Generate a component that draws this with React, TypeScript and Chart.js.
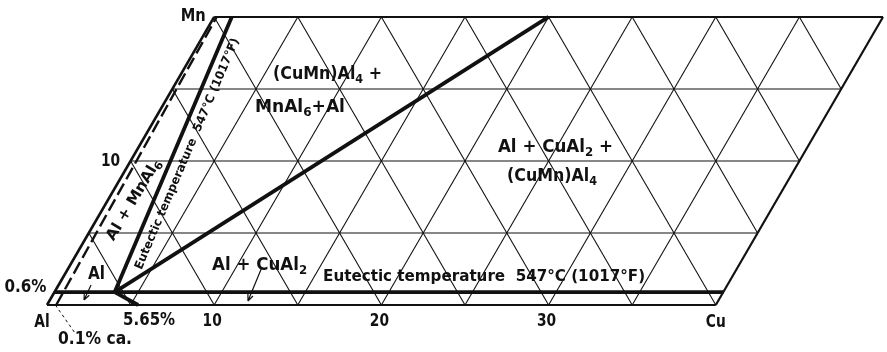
import React, { useEffect, useRef } from "react";
import { Chart, registerables } from "chart.js";

Chart.register(...registerables);

const SIN60 = Math.sqrt(3) / 2;

// ---- composition ranges / ticks (weight %) ----
const cuRange = [0, 40];
const mnRange = [0, 20];
const cuTicks = [10, 20, 30];
const mnTicks = [10];
const gridStep = 5;

// ---- phase boundaries, [Cu %, Mn %] ----
const isothermMn = 0.9; // drawn level of the 0.6 % Mn eutectic isotherm
const eutecticPoint: [number, number] = [3.6, 0.9];
const cuSolvusEnd: [number, number] = [5.45, 0];
const mnAl6BoundaryTop: [number, number] = [1.05, 20];
const tieLineTop: [number, number] = [20, 20];
const mnSolvus: [number, number][] = [
  [0.55, 0],
  [0.15, 20],
];

// ---- text labels ----
const regionLabels = [
  { text: "(CuMn)Al_4 +", cu: 8.79, mn: 15.97, w: 109, size: 17, rot: 0 },
  { text: "MnAl_6+Al", cu: 8.29, mn: 13.68, w: 90, size: 17, rot: 0 },
  { text: "Al + CuAl_2 +", cu: 24.96, mn: 10.9, w: 115, size: 17, rot: 0 },
  { text: "(CuMn)Al_4", cu: 25.76, mn: 8.89, w: 90, size: 17, rot: 0 },
  { text: "Al + CuAl_2", cu: 11.36, mn: 2.71, w: 95, size: 17, rot: 0 },
  { text: "Eutectic temperature  547°C (1017°F)", cu: 25.17, mn: 1.94, w: 322, size: 16, rot: 0 },
  { text: "Al", cu: 1.92, mn: 2.08, w: 17, size: 17, rot: 0 },
  { text: "Al + MnAl_6", cu: 1.55, mn: 7.29, w: 92, size: 15, rot: -59 },
  { text: "Eutectic temperature  547°C (1017°F)", cu: 3.15, mn: 10.49, w: 250, size: 12, rot: -67 },
];

// arrows / leaders, [Cu %, Mn %]
const arrows = [
  { from: [1.94, 1.39], to: [2.04, 0.35] },
  { from: [11.54, 2.64], to: [11.88, 0.28] },
];
const leader = { from: [0.5, 0], to: [2.64, -1.94] };

const toPt = (cu: number, mn: number) => ({ x: cu + mn / 2, y: mn * SIN60 });

function seg(a: [number, number], b: [number, number]) {
  return [toPt(a[0], a[1]), toPt(b[0], b[1])];
}

function buildGrid() {
  const lines: { x: number; y: number }[][] = [];
  const [c0, c1] = cuRange;
  const [m0, m1] = mnRange;
  for (let m = m0 + gridStep; m < m1; m += gridStep) lines.push(seg([c0, m], [c1, m]));
  for (let c = c0 + gridStep; c < c1; c += gridStep) lines.push(seg([c, m0], [c, m1]));
  for (let k = gridStep; k < c1 + m1; k += gridStep) {
    const lo: [number, number] = k <= c1 ? [k, 0] : [c1, k - c1];
    const hi: [number, number] = k <= m1 ? [0, k] : [k - m1, m1];
    lines.push(seg(lo, hi));
  }
  return lines;
}

const FAM = '"Liberation Sans Narrow","DejaVu Sans Condensed","Liberation Sans",Arial,sans-serif';

function drawRich(
  ctx: CanvasRenderingContext2D,
  text: string,
  cx: number,
  cy: number,
  size: number,
  width: number | null,
  angle: number,
  sxDefault = 0.85
) {
  const parts = text.split(/(_\d)/).filter((p) => p.length > 0);
  const main = `bold ${size}px ${FAM}`;
  const sub = `bold ${Math.round(size * 0.72)}px ${FAM}`;
  let total = 0;
  const ms = parts.map((p) => {
    const isSub = p.startsWith("_");
    const t = isSub ? p.slice(1) : p;
    ctx.font = isSub ? sub : main;
    const w = ctx.measureText(t).width;
    total += w;
    return { t, isSub, w };
  });
  const sx = width ? width / total : sxDefault;
  ctx.save();
  ctx.translate(cx, cy);
  ctx.rotate((angle * Math.PI) / 180);
  ctx.scale(sx, 1);
  ctx.textBaseline = "middle";
  ctx.textAlign = "left";
  ctx.fillStyle = "#111";
  let xx = -total / 2;
  for (const m of ms) {
    ctx.font = m.isSub ? sub : main;
    ctx.fillText(m.t, xx, m.isSub ? size * 0.3 : 0);
    xx += m.w;
  }
  ctx.restore();
}

const annotate = {
  id: "annotate",
  afterDatasetsDraw(chart: any) {
    const { ctx, scales } = chart;
    const sx = scales.x;
    const sy = scales.y;
    const P = (cu: number, mn: number) => {
      const p = toPt(cu, mn);
      return [sx.getPixelForValue(p.x), sy.getPixelForValue(p.y)];
    };
    ctx.save();
    for (const l of regionLabels) {
      const [x, y] = P(l.cu, l.mn);
      drawRich(ctx, l.text, x, y, l.size, l.w, l.rot);
    }
    for (const c of cuTicks) {
      const [x, y] = P(c, 0);
      drawRich(ctx, String(c), x - 2, y + 16, 18, null, 0);
    }
    for (const m of mnTicks) {
      const [x, y] = P(cuRange[0], m);
      drawRich(ctx, String(m), x - 20, y, 18, null, 0);
    }
    {
      const [x, y] = P(cuRange[1], 0);
      drawRich(ctx, "Cu", x, y + 17, 18, null, 0);
    }
    {
      const [x, y] = P(cuRange[0], 0);
      drawRich(ctx, "Al", x - 5, y + 17, 18, null, 0);
      drawRich(ctx, "0.1% ca.", x + 48, y + 35, 17, 74, 0);
    }
    {
      const [x, y] = P(cuRange[0], mnRange[1]);
      drawRich(ctx, "Mn", x - 21, y - 1, 18, 25, 0);
    }
    {
      const [x, y] = P(cuRange[0], isothermMn);
      drawRich(ctx, "0.6%", x - 29, y - 4, 17, 42, 0);
    }
    {
      const [x, y] = P(cuSolvusEnd[0], cuSolvusEnd[1]);
      drawRich(ctx, "5.65%", x + 11, y + 16, 17, 52, 0);
    }
    ctx.strokeStyle = "#111";
    ctx.lineWidth = 1.2;
    for (const a of arrows) {
      const [x0, y0] = P(a.from[0], a.from[1]);
      const [x1, y1] = P(a.to[0], a.to[1]);
      ctx.beginPath();
      ctx.moveTo(x0, y0);
      ctx.lineTo(x1, y1);
      const ang = Math.atan2(y1 - y0, x1 - x0);
      for (const s of [-1, 1]) {
        ctx.moveTo(x1, y1);
        ctx.lineTo(x1 - 7 * Math.cos(ang + s * 0.4), y1 - 7 * Math.sin(ang + s * 0.4));
      }
      ctx.stroke();
    }
    {
      const [x0, y0] = P(leader.from[0], leader.from[1]);
      const [x1, y1] = P(leader.to[0], leader.to[1]);
      ctx.setLineDash([3, 3]);
      ctx.lineWidth = 1;
      ctx.beginPath();
      ctx.moveTo(x0, y0);
      ctx.lineTo(x1, y1);
      ctx.stroke();
      ctx.setLineDash([]);
    }
    ctx.restore();
  },
};

export default function App() {
  const ref = useRef<HTMLCanvasElement | null>(null);
  useEffect(() => {
    if (!ref.current) return;
    const lineDs = (data: any[], width: number, order: number, dash: number[] = []) => ({
      data,
      showLine: true,
      borderColor: "#111",
      borderWidth: width,
      borderDash: dash,
      pointRadius: 0,
      fill: false,
      order,
      borderCapStyle: "butt",
      borderJoinStyle: "miter",
    });
    const [c0, c1] = cuRange;
    const [m0, m1] = mnRange;
    const datasets: any[] = [];
    for (const g of buildGrid()) datasets.push(lineDs(g, 1.1, 5));
    datasets.push(lineDs(seg([c0, m0], [c1, m0]), 2.2, 3));
    datasets.push(lineDs(seg([c0, m1], [c1, m1]), 2, 3));
    datasets.push(lineDs(seg([c1, m0], [c1, m1]), 2.2, 3));
    datasets.push(lineDs(seg([c0, m0], [c0, m1]), 2.6, 3));
    datasets.push(lineDs(seg(mnSolvus[0], mnSolvus[1]), 2.4, 2, [13, 5]));
    datasets.push(lineDs(seg([c0, isothermMn], [c1, isothermMn]), 3.8, 1));
    datasets.push(lineDs(seg(eutecticPoint, cuSolvusEnd), 3.8, 1));
    datasets.push(lineDs(seg(eutecticPoint, mnAl6BoundaryTop), 3.8, 1));
    datasets.push(lineDs(seg(eutecticPoint, tieLineTop), 3.8, 1));

    const S_X = 16.72;
    const S_Y = 16.63;
    const chart = new Chart(ref.current, {
      type: "scatter",
      data: { datasets },
      options: {
        animation: false,
        responsive: false,
        maintainAspectRatio: false,
        layout: { padding: 0 },
        plugins: { legend: { display: false }, tooltip: { enabled: false } },
        scales: {
          x: { type: "linear", display: false, min: -47 / S_X, max: 840 / S_X },
          y: { type: "linear", display: false, min: -47 / S_Y, max: 305 / S_Y },
        },
      },
      plugins: [annotate],
    } as any);
    return () => chart.destroy();
  }, []);
  return (
    <div style={{ position: "fixed", left: 0, top: 0, width: 887, height: 352, background: "#fff" }}>
      <canvas ref={ref} width={887} height={352} style={{ width: 887, height: 352, display: "block" }} />
    </div>
  );
}
